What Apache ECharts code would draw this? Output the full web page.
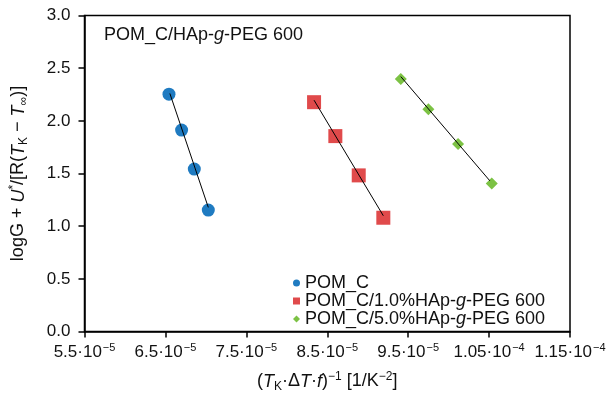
<!DOCTYPE html>
<html>
<head>
<meta charset="utf-8">
<script src="https://cdn.jsdelivr.net/npm/echarts@6/dist/echarts.min.js"></script>
<style>
  html, body { margin: 0; padding: 0; background: #fff; }
  #chart { width: 609px; height: 398px; }
</style>
</head>
<body>
<div id="chart"></div>
<script>
// data
const seriesNames = ['POM_C', 'POM_C/1.0%HAp-g-PEG 600', 'POM_C/5.0%HAp-g-PEG 600'];
const pomX = [6.544e-5, 6.70e-5, 6.857e-5, 7.03e-5];
const pomY = [2.253, 1.912, 1.542, 1.153];
const hap1X = [8.337e-5, 8.60e-5, 8.889e-5, 9.193e-5];
const hap1Y = [2.177, 1.855, 1.482, 1.080];
const hap5X = [9.409e-5, 9.75e-5, 10.117e-5, 10.533e-5];
const hap5Y = [2.396, 2.111, 1.779, 1.406];
// fitted lines, start and end points
const pomFitX = [6.555e-5, 7.03e-5];
const pomFitY = [2.26, 1.178];
const hap1FitX = [8.337e-5, 9.193e-5];
const hap1FitY = [2.196, 1.099];
const hap5FitX = [9.409e-5, 10.51e-5];
const hap5FitY = [2.42, 1.43];
// tick labels
const xTickMantissa = ['5.5', '6.5', '7.5', '8.5', '9.5', '1.05', '1.15'];
const xTickExponent = ['−5', '−5', '−5', '−5', '−5', '−4', '−4'];

const colors = ['#1f7bc1', '#e04a4b', '#7cc244'];
const symbols = ['circle', 'rect', 'diamond'];
const symbolSizes = [13, 14, 12];
const FONT = '"Liberation Sans", Arial, sans-serif';
const INK = '#111';

const zip = (xs, ys) => xs.map((x, i) => [x, ys[i]]);

const chart = echarts.init(document.getElementById('chart'));

const scatterData = [zip(pomX, pomY), zip(hap1X, hap1Y), zip(hap5X, hap5Y)];
const fitData = [zip(pomFitX, pomFitY), zip(hap1FitX, hap1FitY), zip(hap5FitX, hap5FitY)];

const series = [];
scatterData.forEach((d, i) => {
  series.push({
    name: seriesNames[i],
    type: 'scatter',
    data: d,
    symbol: symbols[i],
    symbolSize: symbolSizes[i],
    itemStyle: { color: colors[i], opacity: 1 },
    z: 2
  });
});
fitData.forEach((d) => {
  series.push({
    name: 'fit',
    type: 'line',
    data: d,
    symbol: 'none',
    lineStyle: { color: '#000', width: 1 },
    z: 3
  });
});

// rich text styles for axis names (sub/superscripts)
const nameRich = {
  n: { fontSize: 18, color: INK, lineHeight: 22 },
  i: { fontSize: 18, color: INK, fontStyle: 'italic', lineHeight: 22 },
  sub: { fontSize: 12, color: INK, verticalAlign: 'bottom', lineHeight: 14 },
  sup: { fontSize: 12, color: INK, verticalAlign: 'top', lineHeight: 12 }
};

const option = {
  animation: false,
  textStyle: { fontFamily: FONT },
  grid: {
    left: 84.5, right: 39, top: 15.5, bottom: 66.5,
    outerBoundsMode: 'none',
    show: true, borderColor: '#000', borderWidth: 1.5
  },
  title: {
    left: 99, top: 21,
    text: '{a|POM_C/HAp-}{i|g}{a|-PEG 600}',
    textStyle: {
      fontWeight: 'normal',
      rich: {
        a: { fontSize: 18, color: INK, fontFamily: FONT, fontWeight: 'normal' },
        i: { fontSize: 18, color: INK, fontFamily: FONT, fontWeight: 'normal', fontStyle: 'italic' }
      }
    }
  },
  legend: {
    orient: 'vertical',
    left: 288, top: 269,
    itemWidth: 7, itemHeight: 7,
    itemGap: 0,
    itemTextGap: 13,
    data: seriesNames.map((n, i) => ({ name: n, icon: symbols[i] })),
    formatter: (n) => n.replace('-g-', '-{i|g}-'),
    textStyle: {
      fontSize: 18, color: INK, lineHeight: 17.5,
      rich: { i: { fontSize: 18, fontStyle: 'italic', color: INK } }
    }
  },
  xAxis: {
    type: 'value',
    min: 5.5e-5, max: 1.15e-4, interval: 1e-5,
    splitLine: { show: false },
    axisLine: { lineStyle: { color: '#000', width: 1.5 } },
    axisTick: { length: 6, lineStyle: { color: '#000', width: 1.5 } },
    axisLabel: {
      margin: 11,
      formatter: (v, idx) => '{b|' + xTickMantissa[idx] + '·10}{s|' + xTickExponent[idx] + '}',
      rich: {
        b: { fontSize: 17, color: INK, lineHeight: 20 },
        s: { fontSize: 11, color: INK, verticalAlign: 'top', lineHeight: 11, padding: [0, 0, 0, 1] }
      }
    },
    name: '{n|(}{i|T}{sub|K}{n|·Δ}{i|T}{n|·}{i|f}{n|)}{sup|−1}{n| [1/K}{sup|−2}{n|]}',
    nameLocation: 'middle',
    nameGap: 39,
    nameTextStyle: { rich: nameRich }
  },
  yAxis: {
    type: 'value',
    min: 0, max: 3, interval: 0.5,
    splitLine: { show: false },
    axisLine: { lineStyle: { color: '#000', width: 1.5 } },
    axisTick: { length: 6, lineStyle: { color: '#000', width: 1.5 } },
    axisLabel: {
      margin: 14, fontSize: 17, color: INK,
      formatter: (v) => v.toFixed(1)
    },
    name: '{n|logG + }{i|U}{sup|*}{n|/[R(}{i|T}{sub|K}{n| − }{i|T}{sub|∞}{n|)]}',
    nameLocation: 'middle',
    nameGap: 55,
    nameRotate: 90,
    nameTextStyle: { rich: nameRich }
  },
  series: series
};

chart.setOption(option);
</script>
</body>
</html>
